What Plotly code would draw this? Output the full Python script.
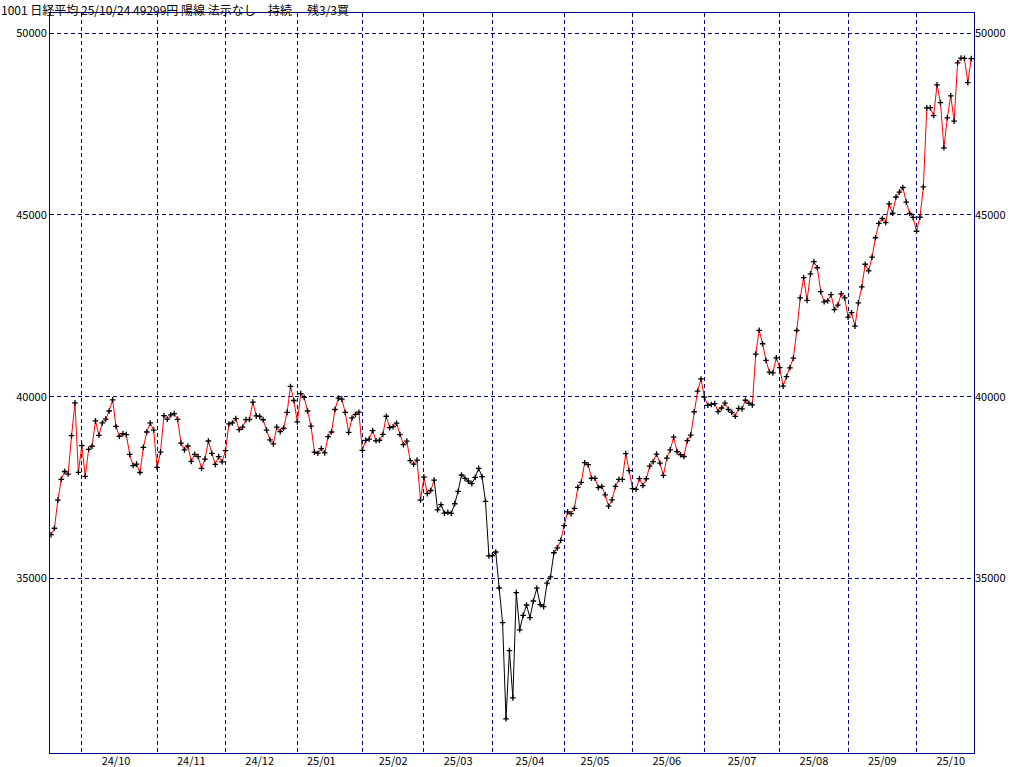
import plotly.graph_objects as go

dates = [
    # 2024-09
    "2024-09-17", "2024-09-18", "2024-09-19", "2024-09-20", "2024-09-24", "2024-09-25", "2024-09-26", "2024-09-27", "2024-09-30",
    # 2024-10
    "2024-10-01", "2024-10-02", "2024-10-03", "2024-10-04", "2024-10-07", "2024-10-08", "2024-10-09", "2024-10-10", "2024-10-11",
    "2024-10-15", "2024-10-16", "2024-10-17", "2024-10-18", "2024-10-21", "2024-10-22", "2024-10-23", "2024-10-24", "2024-10-25",
    "2024-10-28", "2024-10-29", "2024-10-30", "2024-10-31",
    # 2024-11
    "2024-11-01", "2024-11-05", "2024-11-06", "2024-11-07", "2024-11-08", "2024-11-11", "2024-11-12", "2024-11-13", "2024-11-14",
    "2024-11-15", "2024-11-18", "2024-11-19", "2024-11-20", "2024-11-21", "2024-11-22", "2024-11-25", "2024-11-26", "2024-11-27",
    "2024-11-28", "2024-11-29",
    # 2024-12
    "2024-12-02", "2024-12-03", "2024-12-04", "2024-12-05", "2024-12-06", "2024-12-09", "2024-12-10", "2024-12-11", "2024-12-12",
    "2024-12-13", "2024-12-16", "2024-12-17", "2024-12-18", "2024-12-19", "2024-12-20", "2024-12-23", "2024-12-24", "2024-12-25",
    "2024-12-26", "2024-12-27", "2024-12-30",
    # 2025-01
    "2025-01-06", "2025-01-07", "2025-01-08", "2025-01-09", "2025-01-10", "2025-01-14", "2025-01-15", "2025-01-16", "2025-01-17",
    "2025-01-20", "2025-01-21", "2025-01-22", "2025-01-23", "2025-01-24", "2025-01-27", "2025-01-28", "2025-01-29", "2025-01-30",
    "2025-01-31",
    # 2025-02
    "2025-02-03", "2025-02-04", "2025-02-05", "2025-02-06", "2025-02-07", "2025-02-10", "2025-02-12", "2025-02-13", "2025-02-14",
    "2025-02-17", "2025-02-18", "2025-02-19", "2025-02-20", "2025-02-21", "2025-02-25", "2025-02-26", "2025-02-27", "2025-02-28",
    # 2025-03
    "2025-03-03", "2025-03-04", "2025-03-05", "2025-03-06", "2025-03-07", "2025-03-10", "2025-03-11", "2025-03-12", "2025-03-13",
    "2025-03-14", "2025-03-17", "2025-03-18", "2025-03-19", "2025-03-21", "2025-03-24", "2025-03-25", "2025-03-26", "2025-03-27",
    "2025-03-28", "2025-03-31",
    # 2025-04
    "2025-04-01", "2025-04-02", "2025-04-03", "2025-04-04", "2025-04-07", "2025-04-08", "2025-04-09", "2025-04-10", "2025-04-11",
    "2025-04-14", "2025-04-15", "2025-04-16", "2025-04-17", "2025-04-18", "2025-04-21", "2025-04-22", "2025-04-23", "2025-04-24",
    "2025-04-25", "2025-04-28", "2025-04-30",
    # 2025-05
    "2025-05-01", "2025-05-02", "2025-05-07", "2025-05-08", "2025-05-09", "2025-05-12", "2025-05-13", "2025-05-14", "2025-05-15",
    "2025-05-16", "2025-05-19", "2025-05-20", "2025-05-21", "2025-05-22", "2025-05-23", "2025-05-26", "2025-05-27", "2025-05-28",
    "2025-05-29", "2025-05-30",
    # 2025-06
    "2025-06-02", "2025-06-03", "2025-06-04", "2025-06-05", "2025-06-06", "2025-06-09", "2025-06-10", "2025-06-11", "2025-06-12",
    "2025-06-13", "2025-06-16", "2025-06-17", "2025-06-18", "2025-06-19", "2025-06-20", "2025-06-23", "2025-06-24", "2025-06-25",
    "2025-06-26", "2025-06-27", "2025-06-30",
    # 2025-07
    "2025-07-01", "2025-07-02", "2025-07-03", "2025-07-04", "2025-07-07", "2025-07-08", "2025-07-09", "2025-07-10", "2025-07-11",
    "2025-07-14", "2025-07-15", "2025-07-16", "2025-07-17", "2025-07-18", "2025-07-22", "2025-07-23", "2025-07-24", "2025-07-25",
    "2025-07-28", "2025-07-29", "2025-07-30", "2025-07-31",
    # 2025-08
    "2025-08-01", "2025-08-04", "2025-08-05", "2025-08-06", "2025-08-07", "2025-08-08", "2025-08-12", "2025-08-13", "2025-08-14",
    "2025-08-15", "2025-08-18", "2025-08-19", "2025-08-20", "2025-08-21", "2025-08-22", "2025-08-25", "2025-08-26", "2025-08-27",
    "2025-08-28", "2025-08-29",
    # 2025-09
    "2025-09-01", "2025-09-02", "2025-09-03", "2025-09-04", "2025-09-05", "2025-09-08", "2025-09-09", "2025-09-10", "2025-09-11",
    "2025-09-12", "2025-09-16", "2025-09-17", "2025-09-18", "2025-09-19", "2025-09-22", "2025-09-24", "2025-09-25", "2025-09-26",
    "2025-09-29", "2025-09-30",
    # 2025-10
    "2025-10-01", "2025-10-02", "2025-10-03", "2025-10-06", "2025-10-07", "2025-10-08", "2025-10-09", "2025-10-10", "2025-10-14",
    "2025-10-15", "2025-10-16", "2025-10-17", "2025-10-20", "2025-10-21", "2025-10-22", "2025-10-23", "2025-10-24",
]

closes = [
    # 2024-09
    36203.22, 36380.17, 37155.33, 37723.91, 37940.59, 37870.26, 38925.63, 39829.56, 37919.55,
    # 2024-10
    38651.97, 37808.76, 38552.06, 38635.62, 39332.74, 38937.54, 39277.39, 39380.89, 39605.80,
    39910.55, 39180.30, 38911.19, 38981.75, 38954.60, 38411.96, 38104.86, 38143.29, 37913.92,
    38605.53, 39027.98, 39277.39, 39081.25,
    # 2024-11
    38053.67, 38474.90, 39480.67, 39381.41, 39500.37, 39533.32, 39376.09, 38721.66, 38535.70,
    38642.91, 38220.85, 38414.43, 38352.34, 38026.17, 38283.85, 38780.14, 38442.00, 38134.97,
    38349.06, 38208.03,
    # 2024-12
    38513.02, 39248.86, 39276.39, 39395.60, 39091.17, 39160.50, 39367.58, 39372.23, 39849.14,
    39470.44, 39457.49, 39364.68, 39081.71, 38813.58, 38701.90, 39161.34, 39036.85, 39130.43,
    39568.06, 40281.16, 39894.54,
    # 2025-01
    39307.05, 40083.30, 39981.06, 39605.09, 39190.40, 38474.30, 38444.58, 38572.60, 38451.46,
    38902.50, 39027.98, 39646.25, 39958.87, 39931.98, 39565.80, 39016.87, 39414.78, 39513.97,
    39572.49,
    # 2025-02
    38520.09, 38798.37, 38831.48, 39066.53, 38787.02, 38801.17, 38963.70, 39461.47, 39149.43,
    39174.25, 39270.40, 38957.44, 38678.04, 38776.94, 38237.79, 38142.37, 38256.17, 37155.50,
    # 2025-03
    37785.47, 37331.18, 37418.24, 37704.93, 36887.17, 37028.27, 36793.11, 36819.09, 36790.03,
    37053.10, 37396.52, 37845.42, 37751.88, 37677.06, 37608.49, 37780.54, 38027.29, 37799.97,
    37120.33, 35617.56,
    # 2025-04
    35624.48, 35725.87, 34735.93, 33780.58, 31136.58, 33012.58, 31714.03, 34609.00, 33585.58,
    33982.36, 34267.54, 33920.40, 34377.60, 34730.28, 34279.92, 34220.60, 34868.63, 35039.15,
    35705.74, 35839.99, 36045.38,
    # 2025-05
    36452.30, 36830.69, 36779.66, 36928.63, 37503.33, 37644.26, 38183.26, 38128.13, 37755.51,
    37753.72, 37498.63, 37529.49, 37298.98, 36985.87, 37160.47, 37531.53, 37724.11, 37722.40,
    38432.98, 37965.10,
    # 2025-06
    37470.67, 37446.81, 37747.45, 37554.49, 37741.61, 38088.57, 38211.51, 38421.19, 38173.09,
    37834.25, 38311.33, 38536.74, 38885.15, 38488.34, 38403.23, 38354.09, 38790.56, 38942.07,
    39584.58, 40150.79, 40487.39,
    # 2025-07
    39986.33, 39762.48, 39785.90, 39810.88, 39587.68, 39688.81, 39821.28, 39646.36, 39569.68,
    39459.62, 39678.02, 39663.40, 39901.19, 39819.11, 39774.92, 41171.32, 41826.34, 41456.23,
    40998.27, 40674.55, 40654.70, 41069.82,
    # 2025-08
    40799.60, 40290.70, 40549.54, 40794.86, 41059.15, 41820.48, 42718.17, 43274.67, 42649.26,
    43378.31, 43714.31, 43546.29, 42888.55, 42610.17, 42633.29, 42807.82, 42394.40, 42520.27,
    42828.79, 42718.47,
    # 2025-09
    42188.79, 42310.49, 41938.89, 42580.27, 43018.75, 43643.81, 43459.29, 43837.67, 44372.50,
    44768.12, 44902.27, 44790.38, 45303.43, 45045.81, 45493.66, 45630.31, 45754.93, 45354.99,
    45043.75, 44932.63,
    # 2025-10
    44550.85, 44936.73, 45769.50, 47944.76, 47950.88, 47734.99, 48580.44, 48088.80, 46847.32,
    47672.67, 48277.74, 47582.15, 49185.50, 49316.06, 49307.79, 48641.61, 49299.65,
]

# Segments (from date -> next date) drawn in black; all other segments are red
black_segment_first = "2025-03-06"
black_segment_last = "2025-04-25"

y_ticks = [35000, 40000, 45000, 50000]
y_range = [30196, 50556]

title_main = "1001 日経平均 25/10/24 49299円 陽線 法示なし"
title_state = "持続"
title_position = "残3/3買"

NAVY = "#000080"
RED = "#ff0000"
FONT = "Noto Sans CJK JP"

n = len(dates)
xs = list(range(n))

# segment colours
i0 = dates.index(black_segment_first)
i1 = dates.index(black_segment_last)
seg_colors = [("black" if i0 <= i <= i1 else "red") for i in range(n - 1)]

runs = []
start = 0
for i in range(1, n - 1):
    if seg_colors[i] != seg_colors[i - 1]:
        runs.append((start, i, seg_colors[i - 1]))
        start = i
runs.append((start, n - 1, seg_colors[-1]))

# month boundaries and label positions
month_starts = [i for i in range(1, n) if dates[i][:7] != dates[i - 1][:7]]
label_pos, label_txt = [], []
for ms in month_starts:
    ym = dates[ms][:7]
    for j in range(ms, n):
        if dates[j][:7] != ym:
            break
        if int(dates[j][8:10]) >= 16:
            label_pos.append(j)
            label_txt.append(dates[j][2:4] + "/" + dates[j][5:7])
            break

fig = go.Figure()
for a, b, c in runs:
    fig.add_trace(go.Scatter(
        x=xs[a:b + 1], y=closes[a:b + 1], mode="lines",
        line=dict(color=RED if c == "red" else "#000000", width=1),
        hoverinfo="skip", showlegend=False,
    ))
fig.add_trace(go.Scatter(
    x=xs, y=closes, mode="markers",
    marker=dict(symbol="cross-thin", size=4, line=dict(color="#000000", width=1.3)),
    showlegend=False,
))
# helper trace for secondary axes (labels)
fig.add_trace(go.Scatter(
    x=xs, y=closes, mode="lines", xaxis="x2", yaxis="y2",
    line=dict(color="rgba(0,0,0,0)", width=0), hoverinfo="skip", showlegend=False,
))

x_range = [-0.3, n - 0.2]
tickfont = dict(family=FONT, size=11, color="#000000")

fig.update_layout(
    width=1024, height=767,
    margin=dict(l=50, r=50, t=13, b=14, autoexpand=False),
    paper_bgcolor="white", plot_bgcolor="white",
    xaxis=dict(
        range=x_range, tickmode="array", tickvals=month_starts, showticklabels=False,
        showgrid=True, gridcolor=NAVY, gridwidth=1, griddash="4px,3px",
        showline=True, linecolor=NAVY, linewidth=1, mirror=True,
        zeroline=False, ticks="", automargin=False,
    ),
    xaxis2=dict(
        range=x_range, overlaying="x", side="bottom", anchor="y",
        tickmode="array", tickvals=label_pos, ticktext=label_txt,
        showgrid=False, zeroline=False, showline=False, ticks="",
        tickfont=tickfont, automargin=False,
    ),
    yaxis=dict(
        range=y_range, tickmode="array", tickvals=y_ticks,
        ticktext=[str(v) for v in y_ticks],
        showgrid=True, gridcolor=NAVY, gridwidth=1, griddash="4px,3px",
        showline=True, linecolor=NAVY, linewidth=1, mirror=True,
        zeroline=False, ticks="", tickfont=tickfont, automargin=False,
    ),
    yaxis2=dict(
        range=y_range, overlaying="y", side="right", anchor="x",
        tickmode="array", tickvals=y_ticks, ticktext=[str(v) for v in y_ticks],
        showgrid=False, zeroline=False, showline=False, ticks="",
        tickfont=tickfont, automargin=False,
    ),
    hovermode="closest",
)

plot_w = 1024 - 100
plot_h = 767 - 27
def px_x(p):
    return (p - 50) / plot_w
def px_y(p):
    return (753 - p) / plot_h

for txt, left in [(title_main, 0), (title_state, 267), (title_position, 306)]:
    fig.add_annotation(
        text=txt, xref="paper", yref="paper", x=px_x(left), y=px_y(0),
        xanchor="left", yanchor="top", showarrow=False, borderpad=0,
        font=dict(family=FONT, size=12, color="#000000"),
    )

fig.write_html(
    "out.html",
    config={"displayModeBar": False},
    post_script="document.body.style.margin='0';",
)
